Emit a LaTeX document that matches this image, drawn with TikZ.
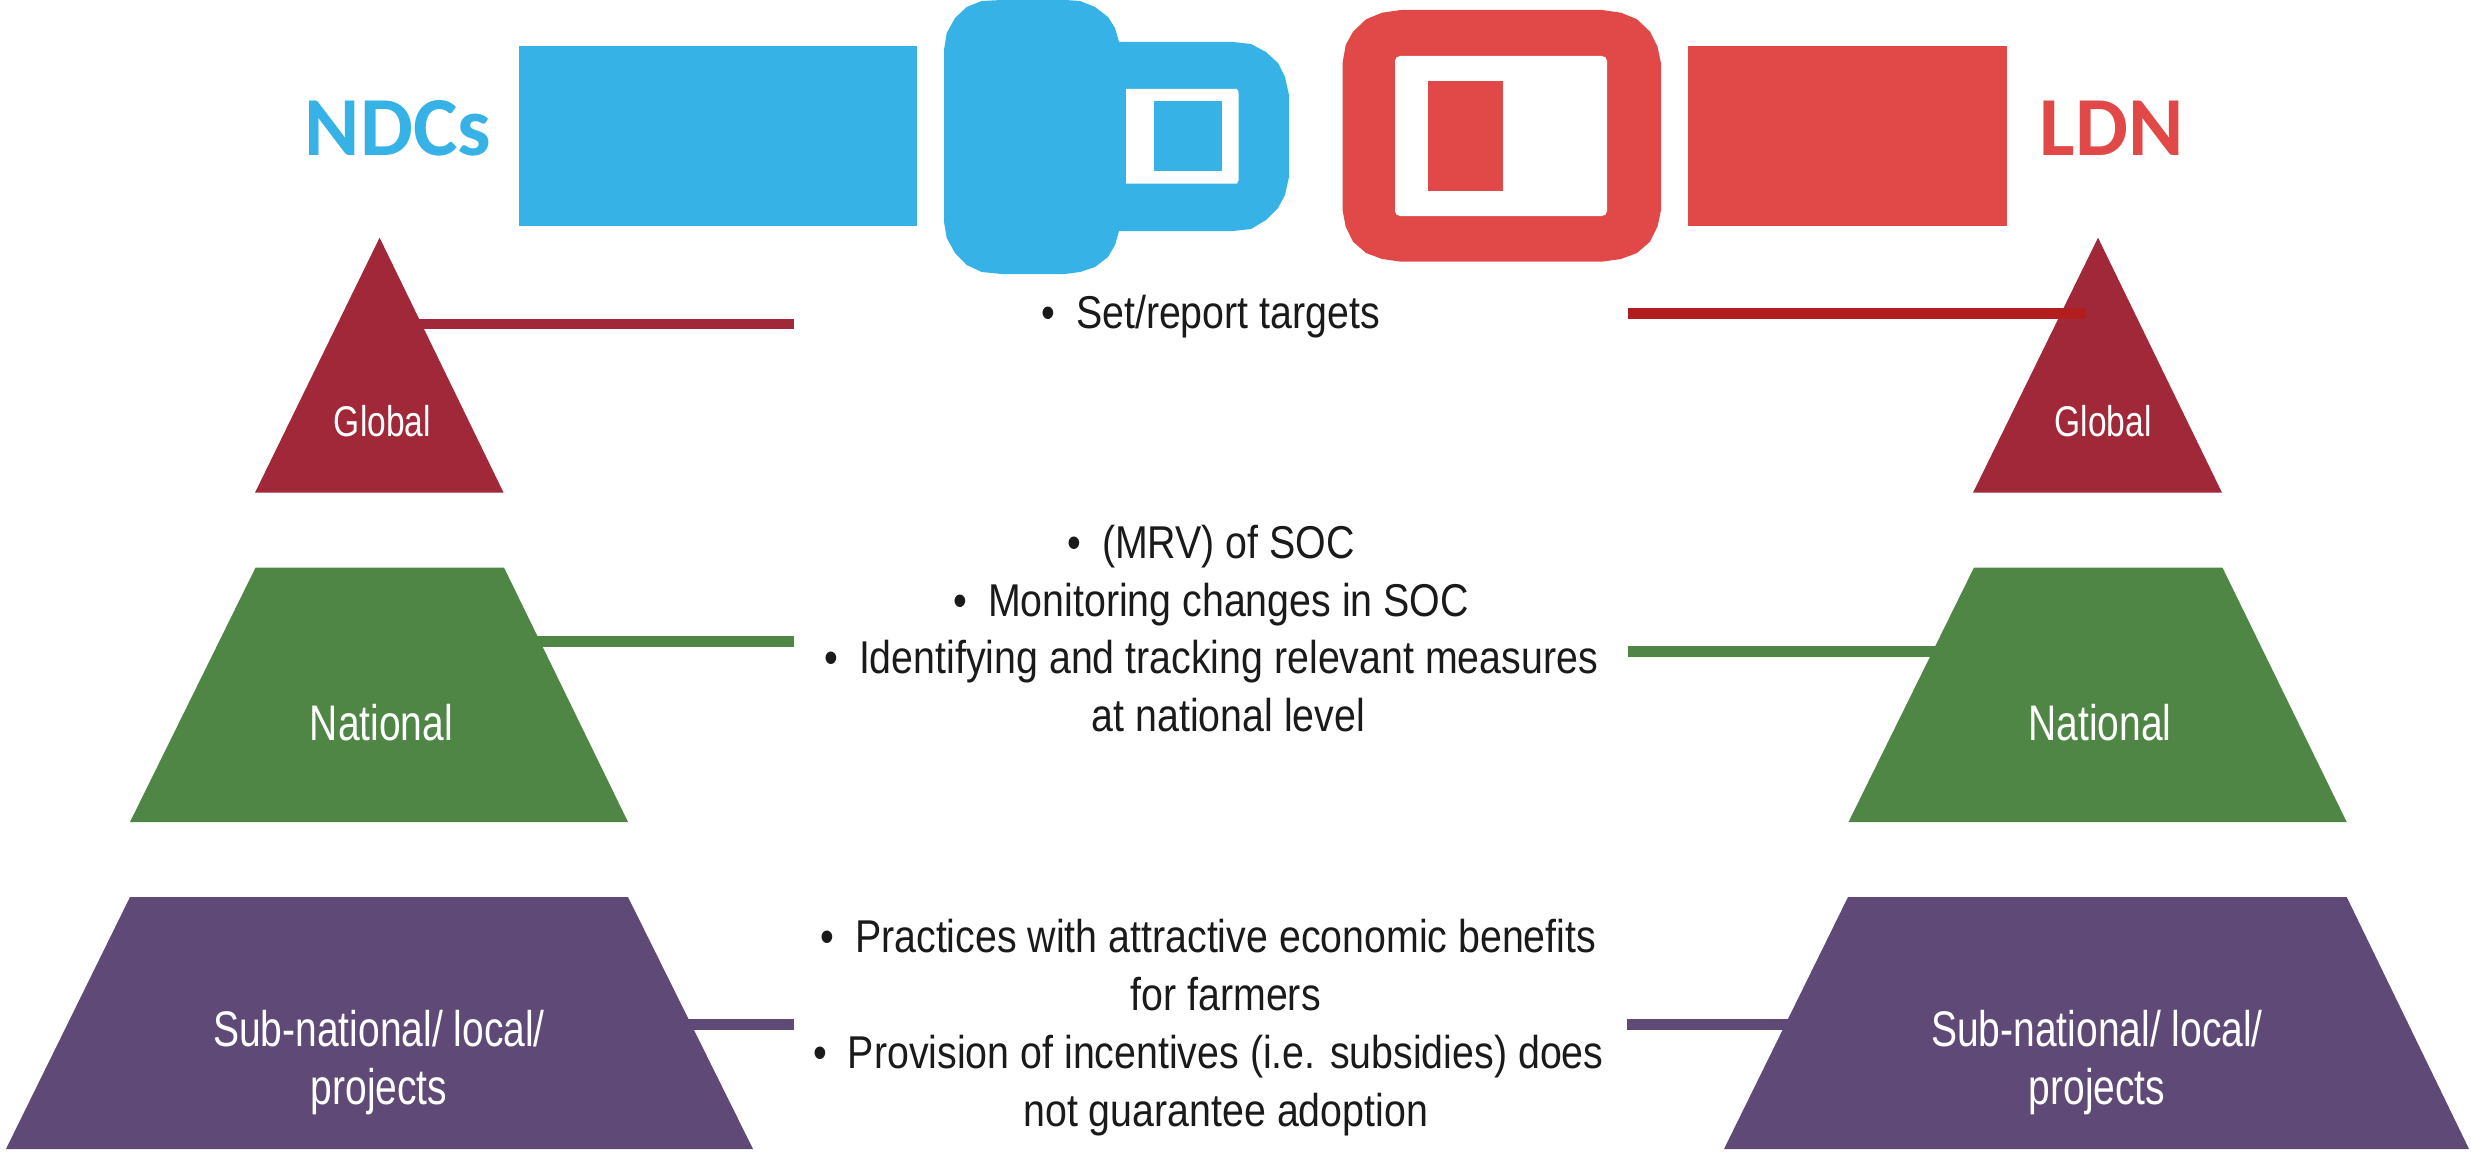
\documentclass[tikz,border=0pt]{standalone}
\usepackage{fontspec}
\setmainfont{Liberation Sans}
\newfontfamily\bodyf[FakeStretch=0.855]{Liberation Sans}
\newfontfamily\labelf[FakeStretch=0.78]{Liberation Sans}
\newfontfamily\headf[FakeStretch=1.0]{Carlito}
\definecolor{beltblue}{RGB}{54,178,230}
\definecolor{beltred}{RGB}{225,72,72}
\definecolor{maroon}{RGB}{160,40,56}
\definecolor{linered}{RGB}{178,30,30}
\definecolor{leafgreen}{RGB}{80,134,69}
\definecolor{plum}{RGB}{95,74,119}
\definecolor{ink}{RGB}{26,26,26}
\newcommand{\bul}{\llap{•\hspace{20.7pt}}}
\tikzset{
  x=1pt,y=-1pt,
  hline/.style={line width=10.5pt},
  lab/.style={anchor=base,inner sep=0pt,text=white,align=center},
  labglobal/.style={lab,font={\labelf\fontsize{43pt}{50pt}\selectfont}},
  labbig/.style={lab,font={\labelf\fontsize{50pt}{57.5pt}\selectfont}},
  body/.style={anchor=base,inner sep=0pt,text=ink,align=center,font={\bodyf\fontsize{46pt}{57.7pt}\selectfont}},
  head/.style={anchor=base,inner sep=0pt,font={\headf\bfseries\fontsize{84pt}{90pt}\selectfont}}
}
\begin{document}
\begin{tikzpicture}
\useasboundingbox (0,0) rectangle (2471,1153);
% anchor points of connectors
\coordinate (g1a) at (360,324);   \coordinate (g1b) at (793.5,324);
\coordinate (n1a) at (500,641.5); \coordinate (n1b) at (794,641.5);
\coordinate (p1a) at (650,1024.5);\coordinate (p1b) at (794,1024.5);
\coordinate (g2a) at (1628,313.3);\coordinate (g2b) at (2086,313.3);
\coordinate (n2a) at (1628,651.3);\coordinate (n2b) at (1950,651.3);
\coordinate (p2a) at (1627,1024.5);\coordinate (p2b) at (1900,1024.5);
% belts
\fill[beltblue] (518.5,46) rectangle (917,226);
\fill[beltred] (1688,46) rectangle (2007,226);
\fill[beltblue] (1001.7,0) -- (1065,0) -- (1080,1) -- (1095,7) -- (1108,17) -- (1115,28) -- (1119,42)
  -- (1233,42) -- (1251,44) -- (1266,52) -- (1278,63) -- (1285,77) -- (1289,95)
  -- (1289,177) -- (1285,195) -- (1278,208) -- (1266,220) -- (1251,229) -- (1233,231)
  -- (1119,231) -- (1115,245) -- (1108,257) -- (1095,267) -- (1080,272) -- (1065,274)
  -- (1001.7,274) -- (981.7,272) -- (966.7,265) -- (955,253) -- (946.7,238) -- (944,222)
  -- (944,50) -- (946.7,33) -- (955,18) -- (966.7,7) -- (981.7,1) -- cycle;
\fill[white] (1126,89) -- (1237,89) -- (1238.7,93) -- (1238.7,180) -- (1237,183.7) -- (1126,183.7) -- cycle;
\fill[beltblue] (1154,101.3) rectangle (1222,171);
\fill[beltred] (1401,10) -- (1602,10) -- (1621,12.7) -- (1637,19.3) -- (1650,31.7) -- (1657.5,46.7) -- (1661,63.3)
  -- (1661,210) -- (1657.5,226.7) -- (1650,241.7) -- (1637,253) -- (1621,259) -- (1602,261.7)
  -- (1401,261.7) -- (1382,259) -- (1366,253) -- (1353,241.7) -- (1345.7,226.7) -- (1342.5,210)
  -- (1342.5,63.3) -- (1345.7,45) -- (1353,31.7) -- (1366,19.3) -- (1382,12.7) -- cycle;
\fill[white,rounded corners=5pt] (1395,56) rectangle (1607,216);
\fill[beltred] (1428,81) rectangle (1502.6,191);
\node[head,text=beltblue] (ndcs) at (398,155.7) {NDCs};
\node[head,text=beltred] (ldn) at (2111.5,155.7) {LDN};
% connectors beneath the pyramids
\draw[hline,maroon] (g1a) -- (g1b);
\draw[hline,leafgreen] (n1a) -- (n1b);
\draw[hline,plum] (p1a) -- (p1b);
\draw[hline,leafgreen] (n2a) -- (n2b);
\draw[hline,plum] (p2a) -- (p2b);
% left pyramids
\fill[maroon] (379.6,237.7) -- (503.6,492.7) -- (255,492.7) -- cycle;
\fill[leafgreen] (255.6,567.5) -- (504,567.5) -- (628,822) -- (130,822) -- cycle;
\fill[plum] (130,897) -- (628,897) -- (753,1149) -- (6,1149) -- cycle;
% right pyramids
\fill[maroon] (2098,237.7) -- (2222,492.7) -- (1973,492.7) -- cycle;
\fill[leafgreen] (1974,567.5) -- (2222.4,567.5) -- (2346.7,822) -- (1848.5,822) -- cycle;
\fill[plum] (1848,897) -- (2346.7,897) -- (2469,1149) -- (1724,1149) -- cycle;
\draw[hline,linered] (g2a) -- (g2b);
% pyramid labels
\node[labglobal] (gl) at (382.4,436) {Global};
\node[labglobal] (gr) at (2103,436) {Global};
\node[labbig] (nl) at (381.4,740.5) {National};
\node[labbig] (nr) at (2100,740.5) {National};
\node[labbig] (sl) at (379,1104) {Sub-national/ local/\\projects};
\node[labbig] (sr) at (2097,1104) {Sub-national/ local/\\projects};
% middle texts
\node[body] (t1) at (1228,328) {\bul Set/report targets};
\node[body] (t2) at (1228.5,731.5) {\bul (MRV) of SOC\\\bul Monitoring changes in SOC\\\bul Identifying and tracking relevant measures\\at national level};
\node[body] (t3) at (1225.7,1126) {\bul Practices with attractive economic benefits\\for farmers\\\bul Provision of incentives (i.e. subsidies) does\\not guarantee adoption};
\end{tikzpicture}
\end{document}
